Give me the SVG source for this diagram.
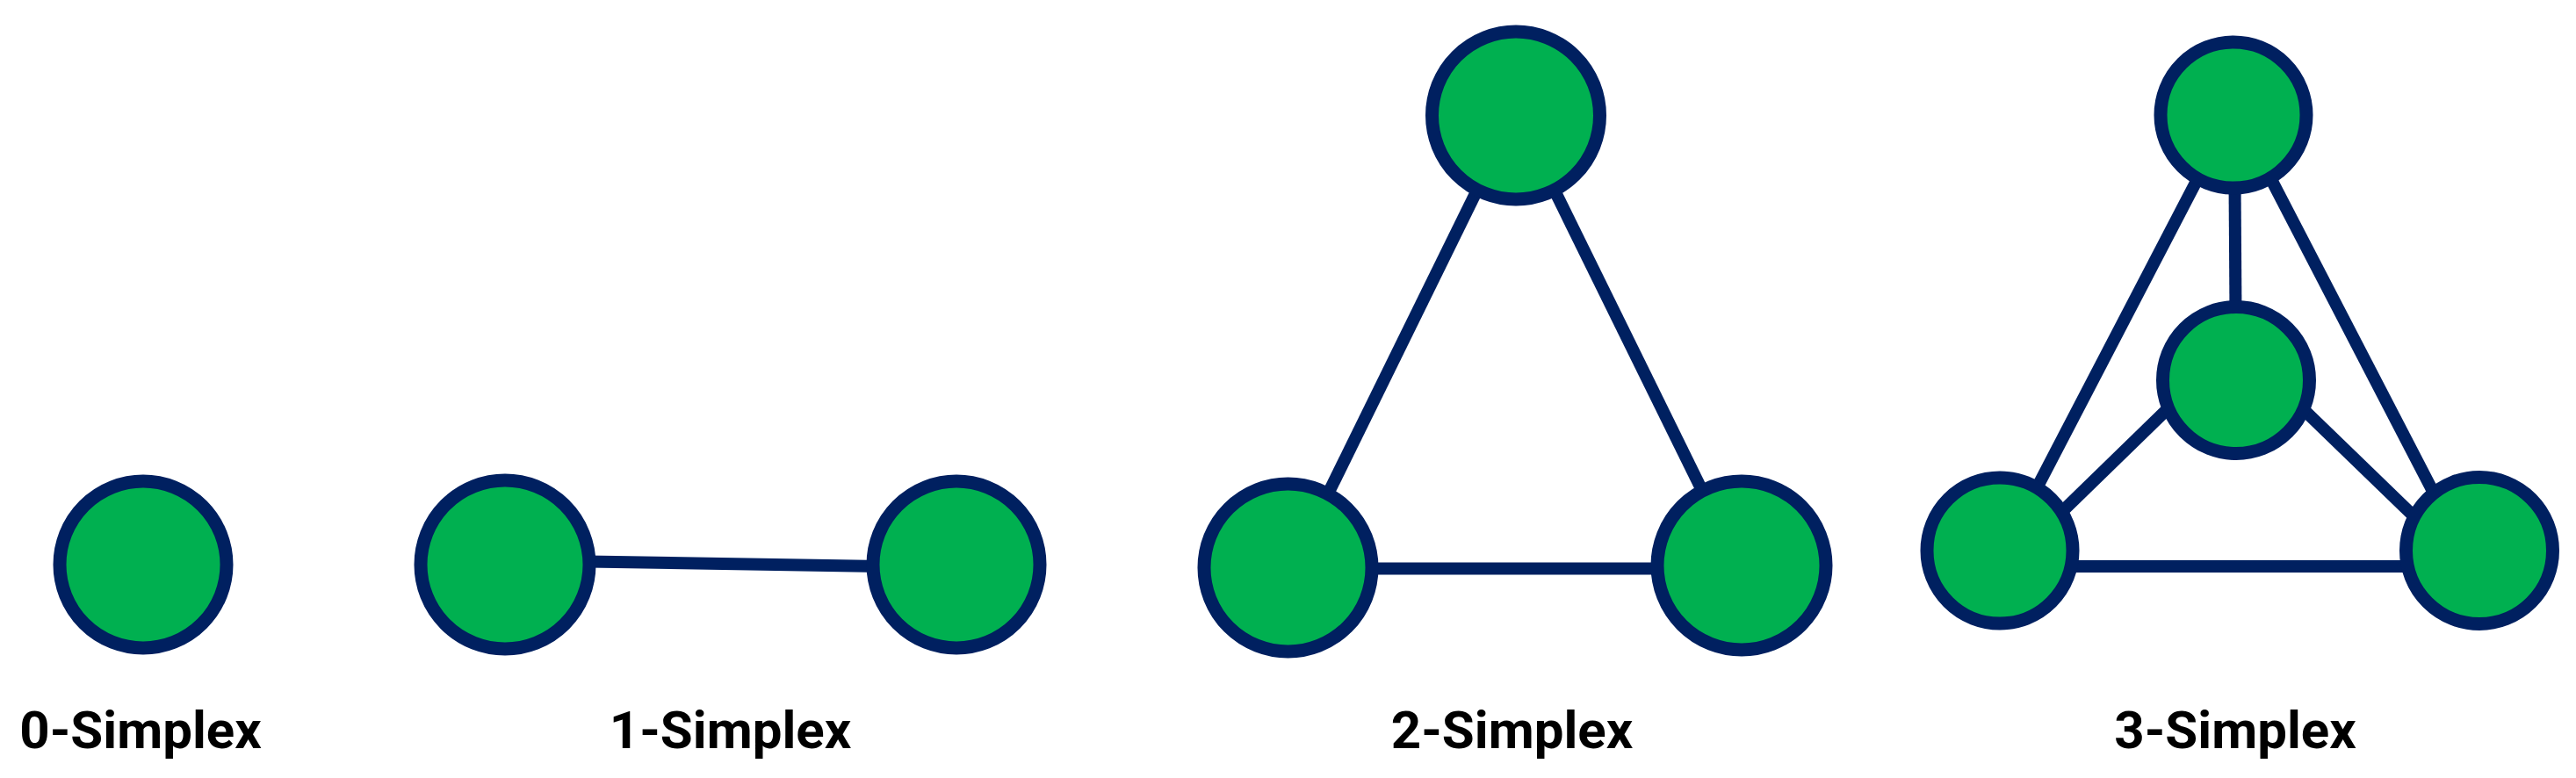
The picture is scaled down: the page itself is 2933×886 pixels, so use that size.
<svg xmlns="http://www.w3.org/2000/svg" width="2933" height="886" viewBox="0 0 2933 886">
  <style>
    .node { fill: #00B050; stroke: #002060; stroke-width: 15; }
    .edge { stroke: #002060; stroke-width: 14; fill: none; }
    .label { font-family: Roboto, "Liberation Sans", Arial, sans-serif; font-weight: bold; font-size: 60px; fill: #000000; text-anchor: middle; }
  </style>
  <rect width="2933" height="886" fill="#FFFFFF"/>
  <g id="connectors">
    <line class="edge" x1="575" y1="638" x2="1089" y2="646.4"/>
    <line class="edge" x1="1723.6" y1="131.5" x2="1471" y2="646"/>
    <line class="edge" x1="1728" y1="131.5" x2="1980" y2="644"/>
    <line class="edge" x1="1466" y1="647.5" x2="1983" y2="647.5"/>
    <line class="edge" x1="2544" y1="131" x2="2546" y2="433"/>
    <line class="edge" x1="2540" y1="131" x2="2282" y2="627"/>
    <line class="edge" x1="2548" y1="131" x2="2805" y2="627"/>
    <line class="edge" x1="2480" y1="454" x2="2330" y2="600"/>
    <line class="edge" x1="2610" y1="454" x2="2765" y2="604"/>
    <line class="edge" x1="2277" y1="645" x2="2823" y2="645"/>
  </g>
  <g id="s0-v0"><circle class="node" cx="163" cy="643" r="95"/></g>
  <g id="s1-v0"><circle class="node" cx="575" cy="643" r="96"/></g>
  <g id="s1-v1"><circle class="node" cx="1089" cy="643" r="95"/></g>
  <g id="s2-top"><circle class="node" cx="1726" cy="131.5" r="95.5"/></g>
  <g id="s2-left"><circle class="node" cx="1466.5" cy="646.5" r="95.5"/></g>
  <g id="s2-right"><circle class="node" cx="1983" cy="644" r="96"/></g>
  <g id="s3-top"><circle class="node" cx="2543" cy="131" r="83"/></g>
  <g id="s3-mid"><circle class="node" cx="2546" cy="433" r="83.5"/></g>
  <g id="s3-left"><circle class="node" cx="2277" cy="627" r="83"/></g>
  <g id="s3-right"><circle class="node" cx="2823" cy="627" r="83.5"/></g>
  <g id="labels">
    <text class="label" x="160" y="852">0-Simplex</text>
    <text class="label" x="831.5" y="852">1-Simplex</text>
    <text class="label" x="1721.5" y="852">2-Simplex</text>
    <text class="label" x="2545" y="852">3-Simplex</text>
  </g>
</svg>
